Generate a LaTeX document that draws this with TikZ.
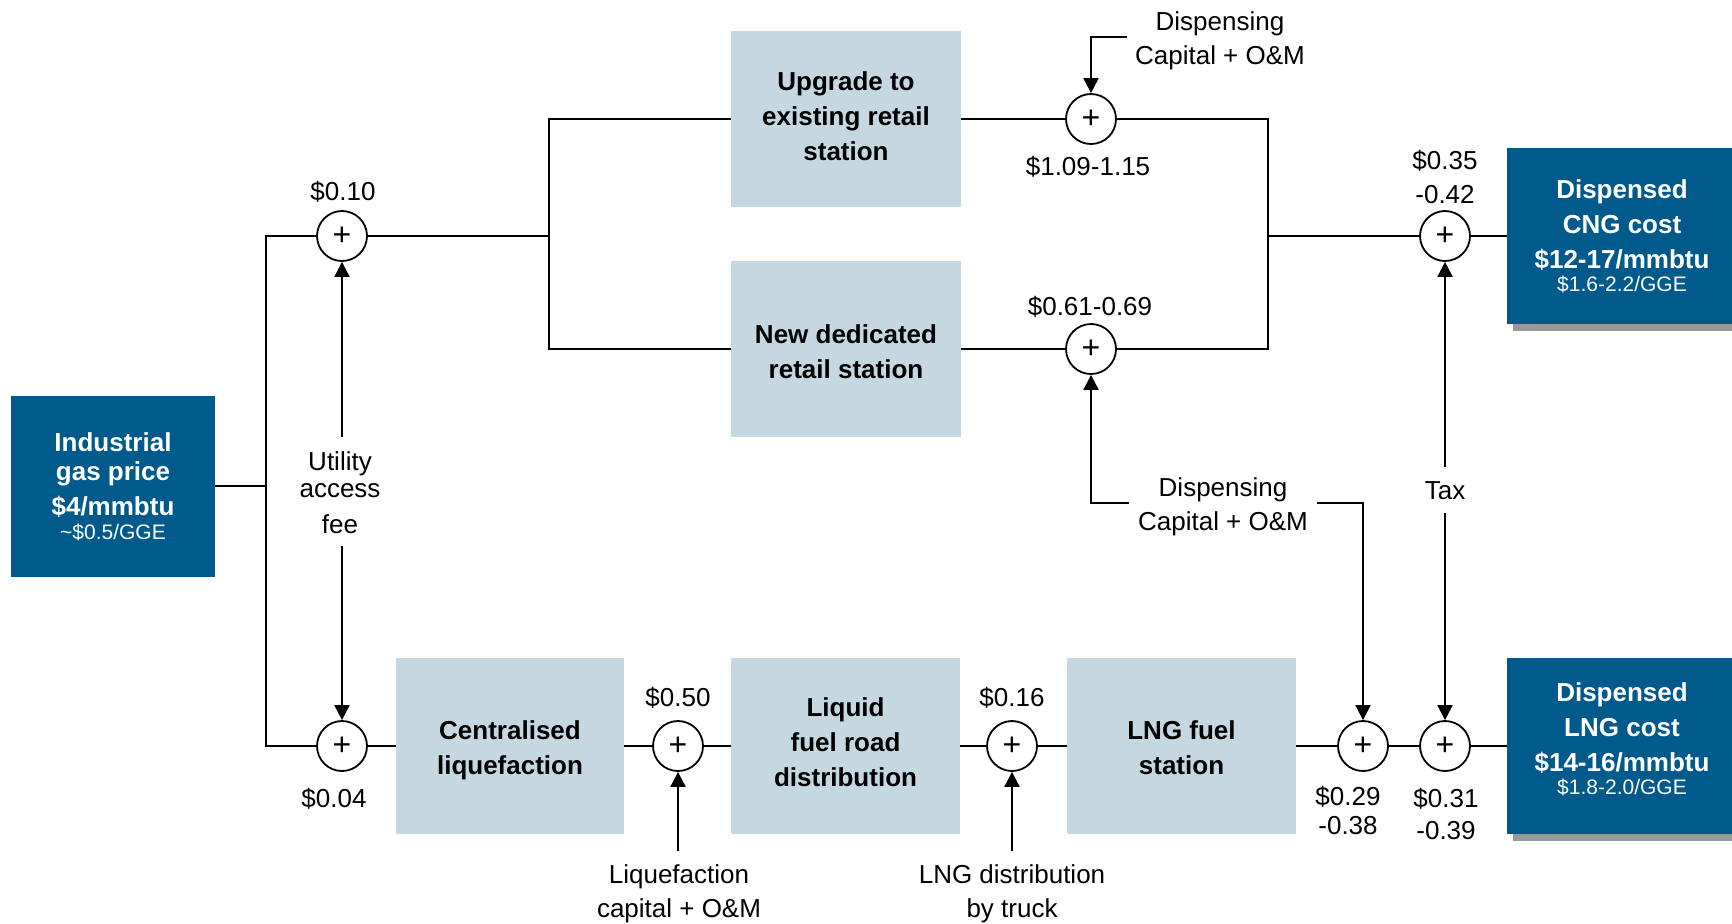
\documentclass[tikz,border=0pt]{standalone}
\usepackage{fontspec}
\setmainfont{Liberation Sans}
\usetikzlibrary{arrows.meta,shadows}
\definecolor{darkbox}{RGB}{0,90,140}
\definecolor{lightbox}{RGB}{197,216,226}
\definecolor{shadowgray}{RGB}{153,153,153}
\begin{document}
\begin{tikzpicture}[x=0.5pt,y=-0.5pt,
  wire/.style={line width=1pt},
  arr/.style={wire,-{Triangle[width=7.5pt,length=7.5pt]}},
  stagebox/.style={fill=lightbox,minimum width=115pt,minimum height=88pt,inner sep=0pt},
  stagetext/.style={inner sep=0pt,align=center,font=\fontsize{13}{17.5}\selectfont\bfseries},
  result/.style={fill=darkbox,minimum width=115pt,minimum height=88pt,inner sep=0pt},
  resulttext/.style={text=white,inner sep=0pt,align=center,font=\fontsize{13}{17.5}\selectfont\bfseries},
  resultshadow/.style={result,drop shadow={shadow xshift=3pt,shadow yshift=-3.5pt,fill=shadowgray,opacity=1}},
  sum/.style={circle,draw,fill=white,line width=0.9pt,minimum size=25pt,inner sep=0pt,font=\fontsize{16}{16}\selectfont},
  lbl/.style={align=center,inner sep=0pt,font=\fontsize{13}{17}\selectfont}
]
\useasboundingbox (0,0) rectangle (1732,923);
\clip (0,0) rectangle (1732,923);

% result boxes
\node[result,minimum width=102pt,minimum height=90.5pt] (ind) at (113,486) {};
\node[resulttext,yshift=-0.5pt] (indt) at (ind) {Industrial\\[-3pt]gas price\\\$4/mmbtu\\[-5.5pt]{\fontsize{10.5}{12}\selectfont\mdseries\textasciitilde\$0.5/GGE}};
\node[resultshadow] (cng) at (1622,236) {};
\node[resulttext] (cngt) at (cng) {Dispensed\\CNG cost\\\$12-17/mmbtu\\[-6pt]{\fontsize{10.5}{12}\selectfont\mdseries\$1.6-2.2/GGE}};
\node[resultshadow] (lng) at (1622,746) {};
\node[resulttext,yshift=3.5pt] (lngt) at (lng) {Dispensed\\LNG cost\\\$14-16/mmbtu\\[-6pt]{\fontsize{10.5}{12}\selectfont\mdseries\$1.8-2.0/GGE}};

% stages
\node[stagebox] (up) at (846,119) {};
\node[stagetext,yshift=1.5pt] (upt) at (up) {Upgrade to\\existing retail\\station};
\node[stagebox] (new) at (846,349) {};
\node[stagetext,yshift=-1.5pt] (newt) at (new) {New dedicated\\retail station};
\node[stagebox,minimum width=114pt] (cen) at (510,746) {};
\node[stagetext,yshift=-2pt] (cent) at (cen) {Centralised\\liquefaction};
\node[stagebox,minimum width=114.5pt] (liq) at (845.5,746) {};
\node[stagetext,yshift=2pt] (liqt) at (liq) {Liquid\\fuel road\\distribution};
\node[stagebox,minimum width=114.5pt] (lngst) at (1181.5,746) {};
\node[stagetext,yshift=-1pt] (lngstt) at (lngst) {LNG fuel\\station};

% summing junctions
\node[sum] (c010) at (342,236) {+};
\node[sum] (c004) at (342,746) {+};
\node[sum] (c1) at (1091,119) {+};
\node[sum] (c2) at (1091,349) {+};
\node[sum] (ccng) at (1445,236) {+};
\node[sum] (c050) at (678,746) {+};
\node[sum] (c016) at (1012,746) {+};
\node[sum] (c029) at (1363,746) {+};
\node[sum] (c031) at (1445,746) {+};

% junction coordinates
\coordinate (jl) at (266,486);
\coordinate (jb) at (549,236);
\coordinate (jr) at (1268,236);

% main wires
\draw[wire] (ind.east) -- (jl);
\draw[wire] (c010.west) -| (jl) |- (c004.west);
\draw[wire] (c010.east) -- (jb);
\draw[wire] (up.west) -| (jb) |- (new.west);
\draw[wire] (up.east) -- (c1.west);
\draw[wire] (new.east) -- (c2.west);
\draw[wire] (c1.east) -| (jr);
\draw[wire] (c2.east) -| (jr);
\draw[wire] (jr) -- (ccng.west);
\draw[wire] (ccng.east) -- (cng.west);
\draw[wire] (c004.east) -- (cen.west);
\draw[wire] (cen.east) -- (c050.west);
\draw[wire] (c050.east) -- (liq.west);
\draw[wire] (liq.east) -- (c016.west);
\draw[wire] (c016.east) -- (lngst.west);
\draw[wire] (lngst.east) -- (c029.west);
\draw[wire] (c029.east) -- (c031.west);
\draw[wire] (c031.east) -- (lng.west);

% input arrows
\coordinate (ua1) at (342,437);
\coordinate (ua2) at (342,546);
\draw[arr] (ua1) -- (c010.south);
\draw[arr] (ua2) -- (c004.north);
\coordinate (d1) at (1127,37);
\draw[arr] (d1) -| (c1.north);
\coordinate (d2a) at (1129,503);
\coordinate (d2b) at (1317,503);
\draw[arr] (d2a) -| (c2.south);
\draw[arr] (d2b) -| (c029.north);
\coordinate (t1) at (1445,467);
\coordinate (t2) at (1445,513);
\draw[arr] (t1) -- (ccng.south);
\draw[arr] (t2) -- (c031.north);
\coordinate (lq) at (678,851);
\coordinate (tr) at (1012,851);
\draw[arr] (lq) -- (c050.south);
\draw[arr] (tr) -- (c016.south);

% labels
\node[lbl] (l010) at (343,192) {\$0.10};
\node[lbl] (l004) at (334,799) {\$0.04};
\node[lbl] (lua) at (340,493) {Utility\\[-3.5pt]access\\[1pt]fee};
\node[lbl] (l109) at (1088,167) {\$1.09-1.15};
\node[lbl] (l061) at (1090,307) {\$0.61-0.69};
\node[lbl] (ld1) at (1220,41) {Dispensing\\Capital + O\&M};
\node[lbl] (ld2) at (1223,507) {Dispensing\\Capital + O\&M};
\node[lbl] (ltax) at (1445,491) {Tax};
\node[lbl] (l035) at (1445,177) {\$0.35\\-0.42};
\node[lbl] (l050) at (678,698) {\$0.50};
\node[lbl] (l016) at (1012,698) {\$0.16};
\node[lbl] (llq) at (679,894) {Liquefaction\\capital + O\&M};
\node[lbl] (ltr) at (1012,894) {LNG distribution\\by truck};
\node[lbl] (l029) at (1348,810) {\$0.29\\[-2.5pt]-0.38};
\node[lbl] (l031) at (1446,814) {\$0.31\\[-1pt]-0.39};
\end{tikzpicture}
\end{document}
